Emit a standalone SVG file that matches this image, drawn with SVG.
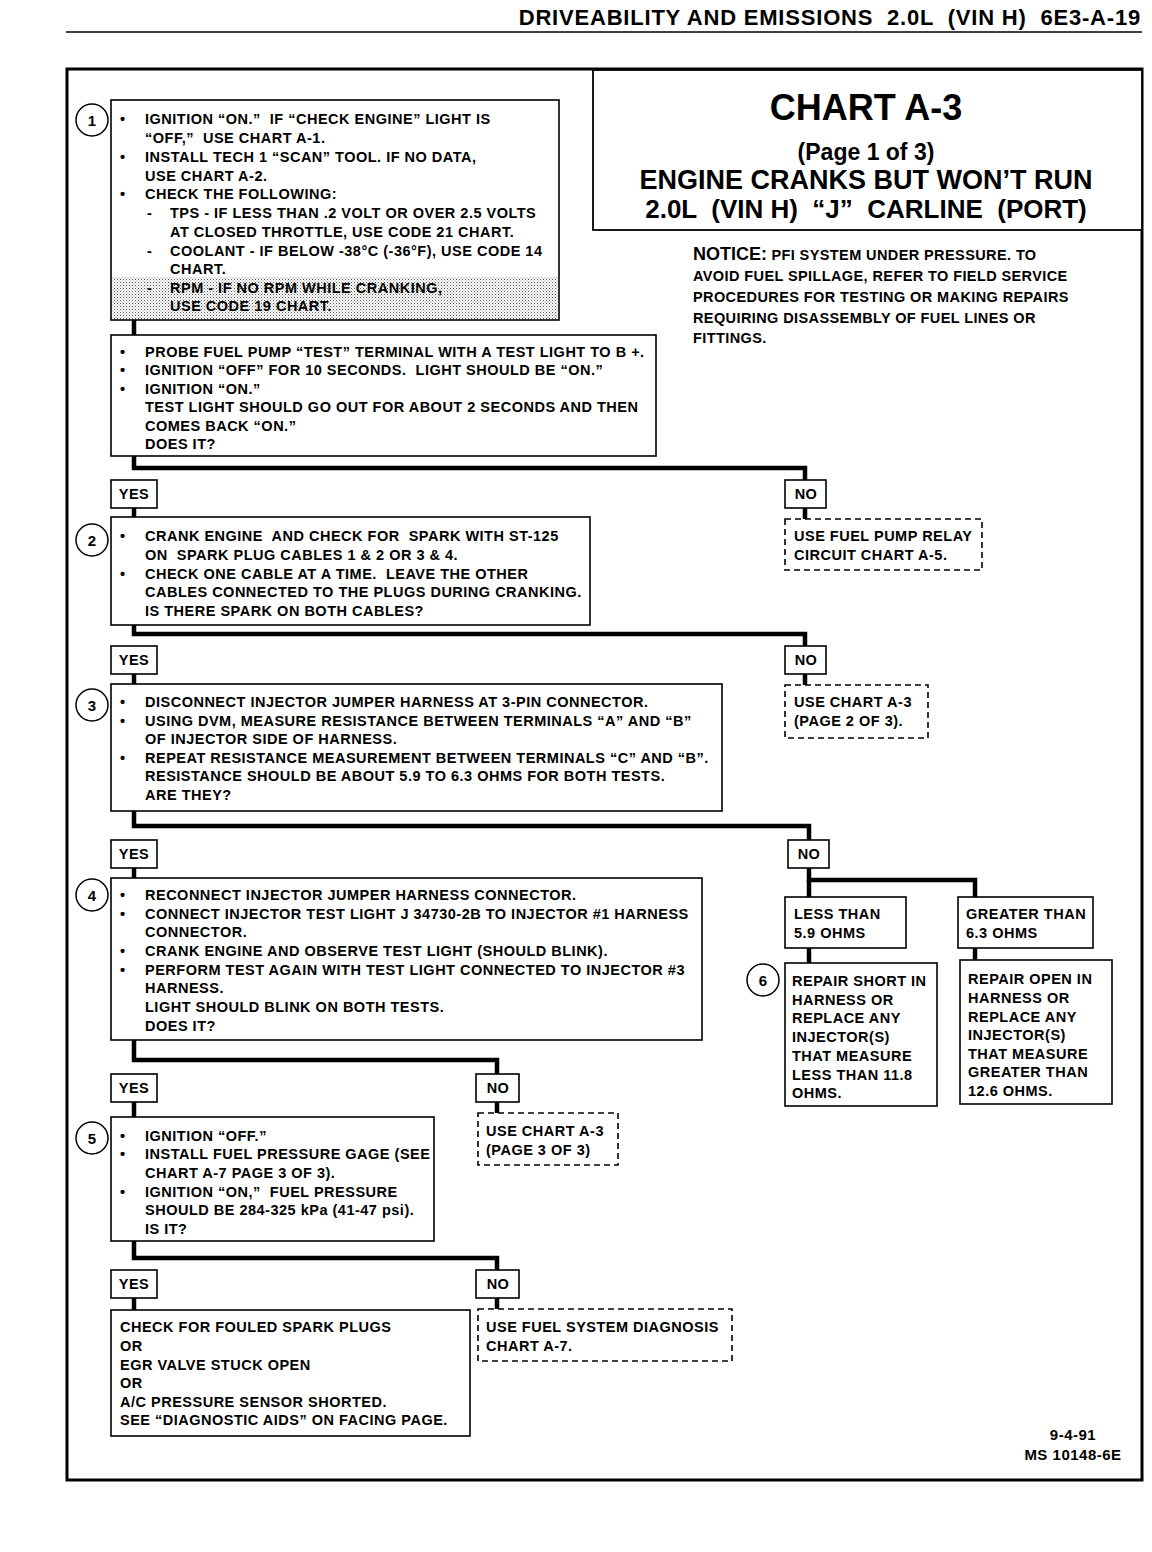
<svg xmlns="http://www.w3.org/2000/svg" width="1152" height="1552" viewBox="0 0 1152 1552">
<defs>
<pattern id="stip" width="3" height="3" patternUnits="userSpaceOnUse">
<rect width="3" height="3" fill="#fff"/>
<rect x="0" y="0" width="1" height="1" fill="#555"/>
<rect x="1.5" y="1.5" width="1" height="1" fill="#888"/>
</pattern>
<style>
.b{fill:#fff;stroke:#000;stroke-width:1.6}
.d{fill:#fff;stroke:#000;stroke-width:1.6;stroke-dasharray:6 4}
.c{fill:none;stroke:#000;stroke-width:4.5}
.ci{fill:#fff;stroke:#000;stroke-width:1.5}
text{font-family:"Liberation Sans",Arial,sans-serif;font-weight:bold;fill:#000}
.t{font-size:14.5px;letter-spacing:0.5px}
.n{font-size:15px;text-anchor:middle}
.l{font-size:14.5px;text-anchor:middle;letter-spacing:0.5px}
.nt{font-size:14.5px;letter-spacing:0.4px}
</style>
</defs>
<rect width="1152" height="1552" fill="#fff"/>

<g id="header">
<text x="1141" y="25" font-size="22" letter-spacing="0.8" text-anchor="end" xml:space="preserve">DRIVEABILITY AND EMISSIONS  2.0L  (VIN H)  6E3-A-19</text>
<line x1="66" y1="32" x2="1142" y2="32" stroke="#000" stroke-width="1.5"/>
</g>

<rect id="frame" x="67" y="69" width="1075" height="1411" fill="none" stroke="#000" stroke-width="3"/>

<g id="title">
<rect x="593" y="70" width="549" height="160" fill="#fff" stroke="#000" stroke-width="1.8"/>
<text x="866" y="120" font-size="36" text-anchor="middle">CHART A-3</text>
<text x="866" y="160" font-size="23" text-anchor="middle" font-weight="normal">(Page 1 of 3)</text>
<text x="866" y="189" font-size="27" text-anchor="middle">ENGINE CRANKS BUT WON’T RUN</text>
<text x="866" y="218" font-size="26" text-anchor="middle" xml:space="preserve">2.0L  (VIN H)  “J”  CARLINE  (PORT)</text>
</g>

<g id="notice">
<text class="nt" x="693" y="260"><tspan font-size="18" letter-spacing="0">NOTICE:</tspan> PFI SYSTEM UNDER PRESSURE. TO</text>
<text class="nt" x="693" y="281">AVOID FUEL SPILLAGE, REFER TO FIELD SERVICE</text>
<text class="nt" x="693" y="302">PROCEDURES FOR TESTING OR MAKING REPAIRS</text>
<text class="nt" x="693" y="323">REQUIRING DISASSEMBLY OF FUEL LINES OR</text>
<text class="nt" x="693" y="343">FITTINGS.</text>
</g>

<g id="connectors">
<line class="c" x1="134" y1="320" x2="134" y2="335"/>
<polyline class="c" points="134,456 134,468 805,468 805,480"/>
<line class="c" x1="134" y1="508" x2="134" y2="517"/>
<line class="c" x1="805" y1="508" x2="805" y2="519"/>
<polyline class="c" points="134,625 134,634 805,634 805,646"/>
<line class="c" x1="134" y1="674" x2="134" y2="684"/>
<line class="c" x1="805" y1="674" x2="805" y2="685"/>
<polyline class="c" points="134,811 134,826 809,826 809,840"/>
<line class="c" x1="134" y1="868" x2="134" y2="878"/>
<polyline class="c" points="809,868 809,880 975,880 975,897"/>
<line class="c" x1="809" y1="880" x2="809" y2="897"/>
<line class="c" x1="809" y1="948" x2="809" y2="963"/>
<line class="c" x1="975" y1="948" x2="975" y2="960"/>
<polyline class="c" points="134,1040 134,1060 497,1060 497,1074"/>
<line class="c" x1="134" y1="1102" x2="134" y2="1117"/>
<line class="c" x1="497" y1="1102" x2="497" y2="1113"/>
<polyline class="c" points="134,1241 134,1258 497,1258 497,1270"/>
<line class="c" x1="134" y1="1298" x2="134" y2="1310"/>
<line class="c" x1="497" y1="1298" x2="497" y2="1309"/>
</g>

<g id="step1">
<rect class="b" x="111" y="100" width="448" height="220"/>
<rect x="112" y="277" width="446" height="42" fill="url(#stip)"/>
<circle class="ci" cx="92" cy="120" r="16"/>
<text class="n" x="92" y="126">1</text>
<g class="t">
<text x="120" y="124">•</text><text x="145" y="124" xml:space="preserve">IGNITION “ON.”  IF “CHECK ENGINE” LIGHT IS</text>
<text x="145" y="143" xml:space="preserve">“OFF,”  USE CHART A-1.</text>
<text x="120" y="162">•</text><text x="145" y="162">INSTALL TECH 1 “SCAN” TOOL. IF NO DATA,</text>
<text x="145" y="181">USE CHART A-2.</text>
<text x="120" y="199">•</text><text x="145" y="199">CHECK THE FOLLOWING:</text>
<text x="147" y="218">-</text><text x="170" y="218">TPS - IF LESS THAN .2 VOLT OR OVER 2.5 VOLTS</text>
<text x="170" y="237">AT CLOSED THROTTLE, USE CODE 21 CHART.</text>
<text x="147" y="256">-</text><text x="170" y="256">COOLANT - IF BELOW -38°C (-36°F), USE CODE 14</text>
<text x="170" y="274">CHART.</text>
<text x="147" y="293">-</text><text x="170" y="293">RPM - IF NO RPM WHILE CRANKING,</text>
<text x="170" y="311">USE CODE 19 CHART.</text>
</g>
</g>

<g id="fuelpump">
<rect class="b" x="111" y="335" width="545" height="121"/>
<g class="t">
<text x="120" y="357">•</text><text x="145" y="357">PROBE FUEL PUMP “TEST” TERMINAL WITH A TEST LIGHT TO B +.</text>
<text x="120" y="375">•</text><text x="145" y="375" xml:space="preserve">IGNITION “OFF” FOR 10 SECONDS.  LIGHT SHOULD BE “ON.”</text>
<text x="120" y="394">•</text><text x="145" y="394">IGNITION “ON.”</text>
<text x="145" y="412">TEST LIGHT SHOULD GO OUT FOR ABOUT 2 SECONDS AND THEN</text>
<text x="145" y="431">COMES BACK “ON.”</text>
<text x="145" y="449">DOES IT?</text>
</g>
</g>

<g id="yes1"><rect class="b" x="111" y="480" width="46" height="28"/><text class="l" x="134" y="499">YES</text></g>
<g id="no1"><rect class="b" x="785" y="480" width="41" height="28"/><text class="l" x="806" y="499">NO</text></g>

<g id="step2">
<rect class="b" x="111" y="517" width="479" height="108"/>
<circle class="ci" cx="92" cy="540" r="16"/>
<text class="n" x="92" y="546">2</text>
<g class="t">
<text x="120" y="541">•</text><text x="145" y="541" xml:space="preserve">CRANK ENGINE  AND CHECK FOR  SPARK WITH ST-125</text>
<text x="145" y="560" xml:space="preserve">ON  SPARK PLUG CABLES 1 &amp; 2 OR 3 &amp; 4.</text>
<text x="120" y="579">•</text><text x="145" y="579" xml:space="preserve">CHECK ONE CABLE AT A TIME.  LEAVE THE OTHER</text>
<text x="145" y="597">CABLES CONNECTED TO THE PLUGS DURING CRANKING.</text>
<text x="145" y="616">IS THERE SPARK ON BOTH CABLES?</text>
</g>
</g>

<g id="relay">
<rect class="d" x="785" y="519" width="197" height="51"/>
<text class="t" x="794" y="541">USE FUEL PUMP RELAY</text>
<text class="t" x="794" y="560">CIRCUIT CHART A-5.</text>
</g>

<g id="yes2"><rect class="b" x="111" y="646" width="46" height="28"/><text class="l" x="134" y="665">YES</text></g>
<g id="no2"><rect class="b" x="785" y="646" width="41" height="28"/><text class="l" x="806" y="665">NO</text></g>

<g id="step3">
<rect class="b" x="111" y="684" width="611" height="127"/>
<circle class="ci" cx="92" cy="705" r="16"/>
<text class="n" x="92" y="711">3</text>
<g class="t">
<text x="120" y="707">•</text><text x="145" y="707">DISCONNECT INJECTOR JUMPER HARNESS AT 3-PIN CONNECTOR.</text>
<text x="120" y="726">•</text><text x="145" y="726">USING DVM, MEASURE RESISTANCE BETWEEN TERMINALS “A” AND “B”</text>
<text x="145" y="744">OF INJECTOR SIDE OF HARNESS.</text>
<text x="120" y="763">•</text><text x="145" y="763">REPEAT RESISTANCE MEASUREMENT BETWEEN TERMINALS “C” AND “B”.</text>
<text x="145" y="781">RESISTANCE SHOULD BE ABOUT 5.9 TO 6.3 OHMS FOR BOTH TESTS.</text>
<text x="145" y="800">ARE THEY?</text>
</g>
</g>

<g id="page2">
<rect class="d" x="785" y="685" width="143" height="53"/>
<text class="t" x="794" y="707">USE CHART A-3</text>
<text class="t" x="794" y="726">(PAGE 2 OF 3).</text>
</g>

<g id="yes3"><rect class="b" x="111" y="840" width="46" height="28"/><text class="l" x="134" y="859">YES</text></g>
<g id="no3"><rect class="b" x="788" y="840" width="41" height="28"/><text class="l" x="809" y="859">NO</text></g>

<g id="step4">
<rect class="b" x="111" y="878" width="591" height="162"/>
<circle class="ci" cx="92" cy="895" r="16"/>
<text class="n" x="92" y="901">4</text>
<g class="t">
<text x="120" y="900">•</text><text x="145" y="900">RECONNECT INJECTOR JUMPER HARNESS CONNECTOR.</text>
<text x="120" y="919">•</text><text x="145" y="919">CONNECT INJECTOR TEST LIGHT J 34730-2B TO INJECTOR #1 HARNESS</text>
<text x="145" y="937">CONNECTOR.</text>
<text x="120" y="956">•</text><text x="145" y="956">CRANK ENGINE AND OBSERVE TEST LIGHT (SHOULD BLINK).</text>
<text x="120" y="975">•</text><text x="145" y="975">PERFORM TEST AGAIN WITH TEST LIGHT CONNECTED TO INJECTOR #3</text>
<text x="145" y="993">HARNESS.</text>
<text x="145" y="1012">LIGHT SHOULD BLINK ON BOTH TESTS.</text>
<text x="145" y="1031">DOES IT?</text>
</g>
</g>

<g id="less">
<rect class="b" x="785" y="897" width="121" height="51"/>
<text class="t" x="794" y="919">LESS THAN</text>
<text class="t" x="794" y="938">5.9 OHMS</text>
</g>
<g id="greater">
<rect class="b" x="958" y="897" width="135" height="51"/>
<text class="t" x="966" y="919">GREATER THAN</text>
<text class="t" x="966" y="938">6.3 OHMS</text>
</g>

<g id="step6">
<rect class="b" x="785" y="963" width="152" height="143"/>
<circle class="ci" cx="763" cy="980" r="16"/>
<text class="n" x="763" y="986">6</text>
<g class="t">
<text x="792" y="986">REPAIR SHORT IN</text>
<text x="792" y="1005">HARNESS OR</text>
<text x="792" y="1023">REPLACE ANY</text>
<text x="792" y="1042">INJECTOR(S)</text>
<text x="792" y="1061">THAT MEASURE</text>
<text x="792" y="1080">LESS THAN 11.8</text>
<text x="792" y="1098">OHMS.</text>
</g>
</g>

<g id="repairopen">
<rect class="b" x="960" y="960" width="152" height="144"/>
<g class="t">
<text x="968" y="984">REPAIR OPEN IN</text>
<text x="968" y="1003">HARNESS OR</text>
<text x="968" y="1022">REPLACE ANY</text>
<text x="968" y="1040">INJECTOR(S)</text>
<text x="968" y="1059">THAT MEASURE</text>
<text x="968" y="1077">GREATER THAN</text>
<text x="968" y="1096">12.6 OHMS.</text>
</g>
</g>

<g id="yes4"><rect class="b" x="111" y="1074" width="46" height="28"/><text class="l" x="134" y="1093">YES</text></g>
<g id="no4"><rect class="b" x="476" y="1074" width="43" height="28"/><text class="l" x="498" y="1093">NO</text></g>

<g id="page3">
<rect class="d" x="478" y="1113" width="140" height="52"/>
<text class="t" x="486" y="1136">USE CHART A-3</text>
<text class="t" x="486" y="1155">(PAGE 3 OF 3)</text>
</g>

<g id="step5">
<rect class="b" x="111" y="1117" width="323" height="124"/>
<circle class="ci" cx="92" cy="1138" r="16"/>
<text class="n" x="92" y="1144">5</text>
<g class="t">
<text x="120" y="1141">•</text><text x="145" y="1141">IGNITION “OFF.”</text>
<text x="120" y="1159">•</text><text x="145" y="1159">INSTALL FUEL PRESSURE GAGE (SEE</text>
<text x="145" y="1178">CHART A-7 PAGE 3 OF 3).</text>
<text x="120" y="1197">•</text><text x="145" y="1197" xml:space="preserve">IGNITION “ON,”  FUEL PRESSURE</text>
<text x="145" y="1215">SHOULD BE 284-325 kPa (41-47 psi).</text>
<text x="145" y="1234">IS IT?</text>
</g>
</g>

<g id="yes5"><rect class="b" x="111" y="1270" width="46" height="28"/><text class="l" x="134" y="1289">YES</text></g>
<g id="no5"><rect class="b" x="476" y="1270" width="43" height="28"/><text class="l" x="498" y="1289">NO</text></g>

<g id="final">
<rect class="b" x="111" y="1310" width="359" height="126"/>
<g class="t">
<text x="120" y="1332">CHECK FOR FOULED SPARK PLUGS</text>
<text x="120" y="1351">OR</text>
<text x="120" y="1370">EGR VALVE STUCK OPEN</text>
<text x="120" y="1388">OR</text>
<text x="120" y="1407">A/C PRESSURE SENSOR SHORTED.</text>
<text x="120" y="1425">SEE “DIAGNOSTIC AIDS” ON FACING PAGE.</text>
</g>
</g>

<g id="fuelsys">
<rect class="d" x="478" y="1309" width="254" height="52"/>
<text class="t" x="486" y="1332">USE FUEL SYSTEM DIAGNOSIS</text>
<text class="t" x="486" y="1351">CHART A-7.</text>
</g>

<g id="footer">
<text x="1073" y="1440" font-size="15" letter-spacing="0.5" text-anchor="middle">9-4-91</text>
<text x="1073" y="1460" font-size="15" letter-spacing="0.5" text-anchor="middle">MS 10148-6E</text>
</g>
</svg>
